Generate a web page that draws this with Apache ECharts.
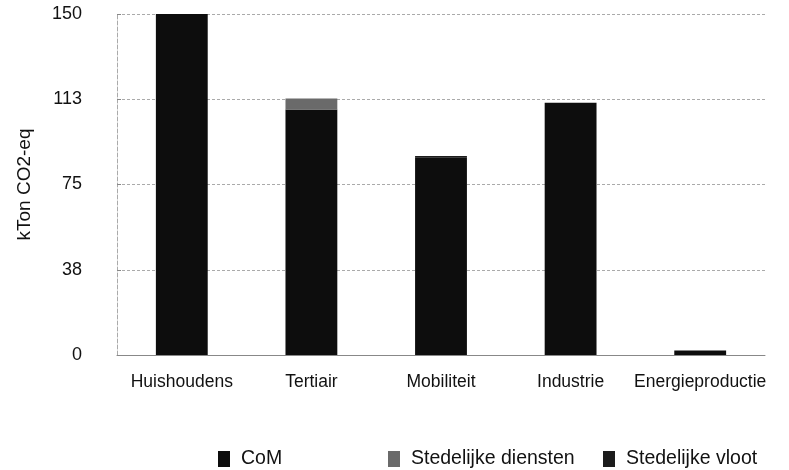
<!DOCTYPE html>
<html><head><meta charset="utf-8">
<script src="https://cdn.jsdelivr.net/npm/echarts@6/dist/echarts.min.js"></script>
<style>html,body{margin:0;padding:0;background:#fff}#c{width:789px;height:470px}</style>
</head><body><div id="c"></div>
<script>
const categories = ['Huishoudens', 'Tertiair', 'Mobiliteit', 'Industrie', 'Energieproductie'];
const seriesNames = ['CoM', 'Stedelijke diensten', 'Stedelijke vloot'];
const com = [150, 108, 87, 111, 2];
const diensten = [0, 4.8, 0, 0, 0];
const vloot = [0, 0, 0.5, 0, 0];
const yTicks = [0, 37.5, 75, 112.5, 150];
const yTickLabels = ['0', '38', '75', '113', '150'];

const font = 'Liberation Sans, Arial, sans-serif';
const colors = ['#0d0d0d', '#6a6a6a', '#1c1c1c'];
const chart = echarts.init(document.getElementById('c'));
const mk = (name, data, i) => ({
  name, type: 'bar', stack: 'tot', data, barWidth: '40%',
  itemStyle: { color: colors[i] }
});
chart.setOption({
  animation: false,
  grid: { left: 117, right: 24, top: 14, bottom: 115 },
  legend: [0, 1, 2].map((i) => ({
    data: [seriesNames[i]], left: [213, 383, 598][i], top: 444,
    itemWidth: 12, itemHeight: 16, icon: 'rect', itemGap: 0,
    textStyle: { fontFamily: font, fontSize: 19.5, color: '#111', padding: [0, 0, 0, 6] }
  })),
  xAxis: {
    type: 'category', data: categories,
    axisLine: { lineStyle: { color: '#888', width: 1 } },
    axisTick: { show: false },
    axisLabel: { fontFamily: font, fontSize: 17.5, color: '#111', margin: 18, interval: 0 }
  },
  yAxis: {
    type: 'value', min: 0, max: 150, interval: 37.5,
    name: 'kTon CO2-eq', nameLocation: 'middle', nameGap: 83, nameRotate: 90,
    nameTextStyle: { fontFamily: font, fontSize: 19, color: '#111' },
    axisLine: { show: true, lineStyle: { color: '#aaa', type: 'dashed' } },
    axisTick: { show: true, length: 4, inside: true, lineStyle: { color: '#888' } },
    axisLabel: {
      fontFamily: font, fontSize: 18, color: '#111', margin: 35, padding: [6, 0, 0, 0],
      formatter: (v) => yTickLabels[yTicks.indexOf(v)] ?? ''
    },
    splitLine: { lineStyle: { color: '#aaa', type: [3, 2], width: 1 } }
  },
  series: [mk(seriesNames[0], com, 0), mk(seriesNames[1], diensten, 1), mk(seriesNames[2], vloot, 2)]
});
</script></body></html>
